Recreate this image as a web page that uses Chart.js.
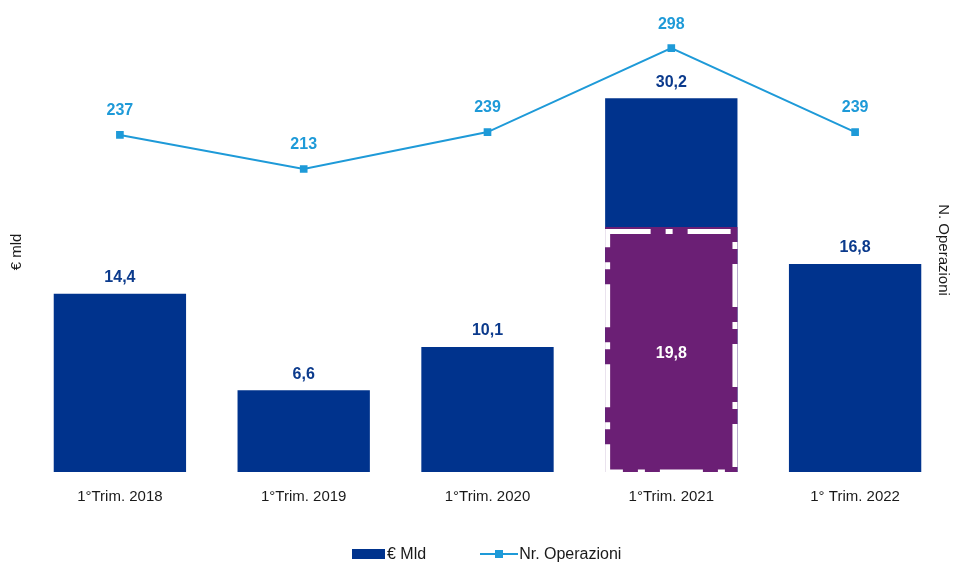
<!DOCTYPE html>
<html>
<head>
<meta charset="utf-8">
<script src="https://cdn.jsdelivr.net/npm/chart.js@4/dist/chart.umd.min.js"></script>
<style>
  body { margin: 0; background: #fff; font-family: "Liberation Sans", Arial, sans-serif; }
  #wrap { position: relative; width: 957px; height: 568px; }
  #legend { position: absolute; left: 352px; top: 545px; display: flex; align-items: center; font-size: 16px; color: #1a1a1a; }
  .leg-bar { display: inline-block; width: 33px; height: 10px; background: #00338d; margin-right: 2px; }
  .leg-line { display: inline-block; position: relative; width: 38px; height: 2px; background: #1e9ad8; margin-left: 54px; margin-right: 1px; }
  .leg-line::after { content: ""; position: absolute; left: 15px; top: -3px; width: 8px; height: 8px; background: #1e9ad8; }
</style>
</head>
<body>
<div id="wrap">
  <canvas id="chart" width="957" height="568"></canvas>
  <div id="legend">
    <span class="leg-bar"></span><span>€ Mld</span>
    <span class="leg-line"></span><span>Nr. Operazioni</span>
  </div>
</div>
<script>
const categories = ['1°Trim. 2018', '1°Trim. 2019', '1°Trim. 2020', '1°Trim. 2021', '1° Trim. 2022'];
const valoreMld = [14.4, 6.6, 10.1, 30.2, 16.8];
const quotaEvidenziata = [null, null, null, 19.8, null];
const nrOperazioni = [237, 213, 239, 298, 239];

const fmt = v => v.toLocaleString('it-IT', { minimumFractionDigits: v % 1 ? 1 : 0 });

// Labels, purple dashed border and axis titles
const extras = {
    id: 'extras',
    afterDatasetsDraw(chart) {
        const ctx = chart.ctx;
        ctx.save();

        // dashed white frame on the purple bar
        chart.getDatasetMeta(1).data.forEach((el, i) => {
            if (quotaEvidenziata[i] == null) return;
            const left = el.x - el.width / 2, top = el.y;
            ctx.strokeStyle = '#ffffff';
            ctx.lineWidth = 5;
            ctx.setLineDash([43, 15, 7, 15]);
            ctx.strokeRect(left + 2.5, top + 4.5, el.width - 5, el.base - top - 4.5);
            ctx.setLineDash([]);
        });

        ctx.font = 'bold 16px "Liberation Sans", Arial, sans-serif';
        ctx.textAlign = 'center';
        ctx.textBaseline = 'middle';

        chart.getDatasetMeta(0).data.forEach((el, i) => {
            ctx.fillStyle = '#0b3a8c';
            ctx.fillText(fmt(valoreMld[i]), el.x, el.y - 16);
        });
        chart.getDatasetMeta(1).data.forEach((el, i) => {
            if (quotaEvidenziata[i] == null) return;
            ctx.fillStyle = '#ffffff';
            ctx.fillText(fmt(quotaEvidenziata[i]), el.x, (el.y + el.base) / 2 + 4);
        });
        chart.getDatasetMeta(2).data.forEach((el, i) => {
            ctx.fillStyle = '#1e9ad8';
            ctx.fillText(nrOperazioni[i], el.x, el.y - 24);
        });

        // axis titles
        ctx.font = '15px "Liberation Sans", Arial, sans-serif';
        ctx.fillStyle = '#1a1a1a';
        ctx.save();
        ctx.translate(17, 252);
        ctx.rotate(-Math.PI / 2);
        ctx.fillText('€ mld', 0, 0);
        ctx.restore();
        ctx.save();
        ctx.translate(943, 250);
        ctx.rotate(Math.PI / 2);
        ctx.fillText('N. Operazioni', 0, 0);
        ctx.restore();

        ctx.restore();
    }
};

new Chart(document.getElementById('chart'), {
    type: 'bar',
    data: {
        labels: categories,
        datasets: [{
            label: '€ Mld',
            data: valoreMld,
            backgroundColor: '#00338d',
            yAxisID: 'y',
            order: 3,
            barPercentage: 0.72,
            categoryPercentage: 1
        }, {
            label: 'quota',
            data: quotaEvidenziata,
            backgroundColor: '#6b1f75',
            yAxisID: 'y',
            order: 2,
            barPercentage: 0.72,
            categoryPercentage: 1
        }, {
            type: 'line',
            label: 'Nr. Operazioni',
            data: nrOperazioni,
            borderColor: '#1e9ad8',
            backgroundColor: '#1e9ad8',
            borderWidth: 2,
            pointStyle: 'rect',
            pointRadius: 4,
            pointHoverRadius: 4,
            yAxisID: 'y1',
            order: 1,
            tension: 0
        }]
    },
    options: {
        responsive: false,
        animation: false,
        layout: { padding: { left: 28, right: 10, top: 14, bottom: 54 } },
        plugins: { legend: { display: false }, tooltip: { enabled: false } },
        scales: {
            x: {
                stacked: true,
                grid: { display: false },
                border: { display: false },
                ticks: {
                    color: '#1a1a1a',
                    padding: 8,
                    font: { family: '"Liberation Sans", Arial, sans-serif', size: 15 }
                }
            },
            y: { display: false, min: 0, max: 37 },
            y1: { display: false, position: 'right', min: 0, max: 322 }
        }
    },
    plugins: [extras]
});
</script>
</body>
</html>
